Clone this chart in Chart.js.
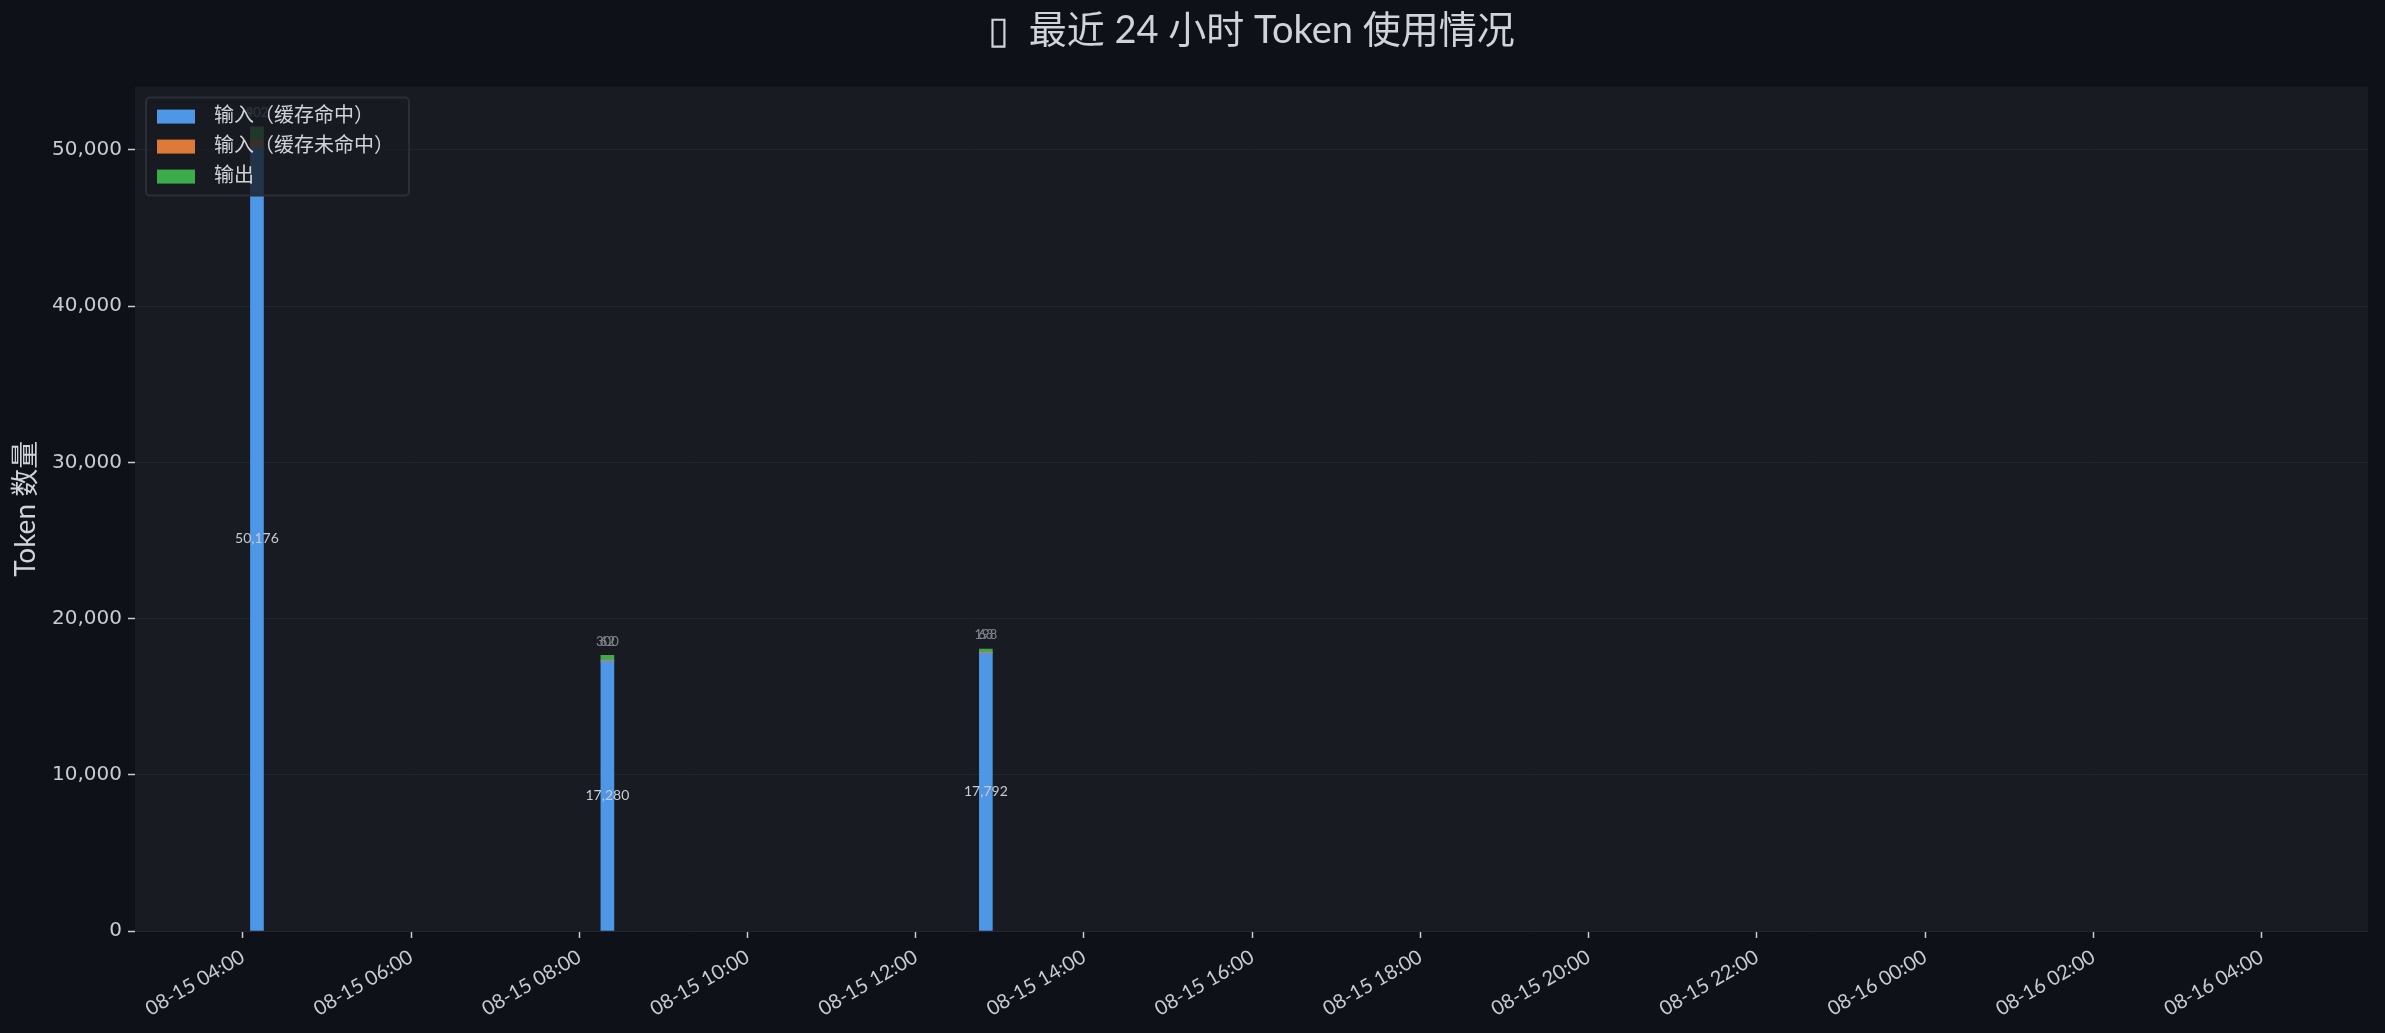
<!DOCTYPE html>
<html>
<head>
<meta charset="utf-8">
<script src="https://cdn.jsdelivr.net/npm/chart.js@4.4.1/dist/chart.umd.min.js"></script>
<style>
  html, body { margin: 0; padding: 0; background: #0e1117; }
  canvas { display: block; }
</style>
</head>
<body>
<canvas id="chart" width="2385" height="1033"></canvas>
<script>
// Token usage over the last 24h, stacked per request slot.
const slots = ['08-15 04:10', '08-15 08:20', '08-15 12:50'];
const cacheHit = [50176, 17280, 17792];
const cacheMiss = [402, 62, 63];
const output = [902, 300, 198];
const seriesNames = ['输入（缓存命中）', '输入（缓存未命中）', '输出'];
const xTicks = ['08-15 04:00', '08-15 06:00', '08-15 08:00', '08-15 10:00', '08-15 12:00',
  '08-15 14:00', '08-15 16:00', '08-15 18:00', '08-15 20:00', '08-15 22:00',
  '08-16 00:00', '08-16 02:00', '08-16 04:00'];
const xRange = ['08-15 02:43', '08-16 05:16'];
const yTicks = [0, 10000, 20000, 30000, 40000, 50000];
const yMax = 54054;

const COLORS = ['#4e97e6', '#dd7a3a', '#3cab4c'];
const TEXT = '#c8ccd2';
const GEO = 'Lato, "Noto Sans CJK SC", sans-serif';
const DEJAVU = '"DejaVu Sans", "Noto Sans CJK SC", sans-serif';

// 'MM-DD HH:MM' -> hours since 08-15 00:00
function toHours(s) {
  const [md, hm] = s.split(' ');
  const day = Number(md.split('-')[1]);
  const [h, m] = hm.split(':').map(Number);
  return (day - 15) * 24 + h + m / 60;
}

const points = (vals) => slots.map((s, i) => ({ x: toHours(s), y: vals[i] }));

// dark plot background behind the bars
const plotBg = {
  id: 'plotBg',
  beforeDraw(chart) {
    const { ctx, chartArea: a } = chart;
    ctx.save();
    ctx.fillStyle = '#181b22';
    ctx.fillRect(a.left, a.top, a.right - a.left, a.bottom - a.top);
    ctx.restore();
  },
};

// value labels: hit count in the middle of the blue bar, the small ones over the stack
const barLabels = {
  id: 'barLabels',
  afterDatasetsDraw(chart) {
    const { ctx } = chart;
    const fmt = (n) => n.toLocaleString('en-US');
    const top = chart.getDatasetMeta(2).data;
    ctx.save();
    ctx.textAlign = 'center';
    ctx.textBaseline = 'middle';
    chart.getDatasetMeta(0).data.forEach((bar, i) => {
      ctx.font = `14px ${GEO}`;
      ctx.fillStyle = TEXT;
      ctx.fillText(fmt(cacheHit[i]), bar.x, (bar.y + bar.base) / 2);
      ctx.font = `13px ${GEO}`;
      ctx.fillStyle = '#80858d';
      ctx.fillText(fmt(cacheMiss[i]), bar.x, top[i].y - 14);
      ctx.fillText(fmt(output[i]), bar.x, top[i].y - 14);
    });
    ctx.restore();
  },
};

// legend box inside the upper-left corner, drawn over the bars
const innerLegend = {
  id: 'innerLegend',
  afterDraw(chart) {
    const { ctx, chartArea: a } = chart;
    const x = a.left + 11, y = a.top + 11, w = 263, h = 98;
    ctx.save();
    ctx.beginPath();
    ctx.roundRect(x, y, w, h, 4);
    ctx.fillStyle = 'rgba(24,27,34,0.8)';
    ctx.fill();
    ctx.lineWidth = 2;
    ctx.strokeStyle = '#2a2e36';
    ctx.stroke();
    ctx.font = `20px ${DEJAVU}`;
    ctx.textBaseline = 'middle';
    chart.data.datasets.forEach((ds, i) => {
      const cy = y + 19 + i * 30;
      ctx.fillStyle = ds.backgroundColor;
      ctx.fillRect(x + 11, cy - 7, 38, 14);
      ctx.fillStyle = '#d0d4da';
      ctx.fillText(ds.label, x + 68, cy);
    });
    ctx.restore();
  },
};

new Chart(document.getElementById('chart'), {
  type: 'bar',
  data: {
    datasets: [cacheHit, cacheMiss, output].map((vals, i) => ({
      label: seriesNames[i],
      data: points(vals),
      backgroundColor: COLORS[i],
      barThickness: 13,
      borderWidth: 0,
    })),
  },
  options: {
    responsive: false,
    devicePixelRatio: 1,
    animation: false,
    layout: { padding: { left: 0, right: 17, top: 0, bottom: 0 } },
    plugins: {
      legend: { display: false },
      tooltip: { enabled: false },
      title: {
        display: true,
        fullSize: false,
        text: '▯  最近 24 小时 Token 使用情况',
        color: '#d0d4da',
        font: { family: GEO, size: 38, weight: 'normal' },
        padding: { top: 8, bottom: 33 },
      },
    },
    scales: {
      x: {
        type: 'linear',
        stacked: true,
        offset: false,
        min: toHours(xRange[0]),
        max: toHours(xRange[1]),
        border: { display: false },
        grid: { offset: false, drawOnChartArea: false, tickLength: 7, tickColor: TEXT, tickWidth: 1.5 },
        ticks: {
          autoSkip: false,
          minRotation: 30,
          maxRotation: 30,
          padding: 7,
          color: TEXT,
          font: { family: GEO, size: 20 },
          callback: (v, i) => xTicks[i],
        },
        afterBuildTicks(s) { s.ticks = xTicks.map((t) => ({ value: toHours(t) })); },
        afterFit(s) { s.height = 102; },
      },
      y: {
        stacked: true,
        min: 0,
        max: yMax,
        border: { display: false },
        grid: { color: '#22262d', tickLength: 7, tickColor: TEXT, tickWidth: 1.5 },
        ticks: {
          padding: 6,
          color: TEXT,
          font: { family: DEJAVU, size: 20 },
          callback: (v) => v.toLocaleString('en-US'),
        },
        afterBuildTicks(s) { s.ticks = yTicks.map((v) => ({ value: v })); },
        title: {
          display: true,
          text: 'Token 数量',
          color: '#d0d4da',
          font: { family: GEO, size: 28 },
          padding: { top: 9, bottom: 0 },
        },
        afterFit(s) { s.width = 135; },
      },
    },
  },
  plugins: [plotBg, barLabels, innerLegend],
});
</script>
</body>
</html>
